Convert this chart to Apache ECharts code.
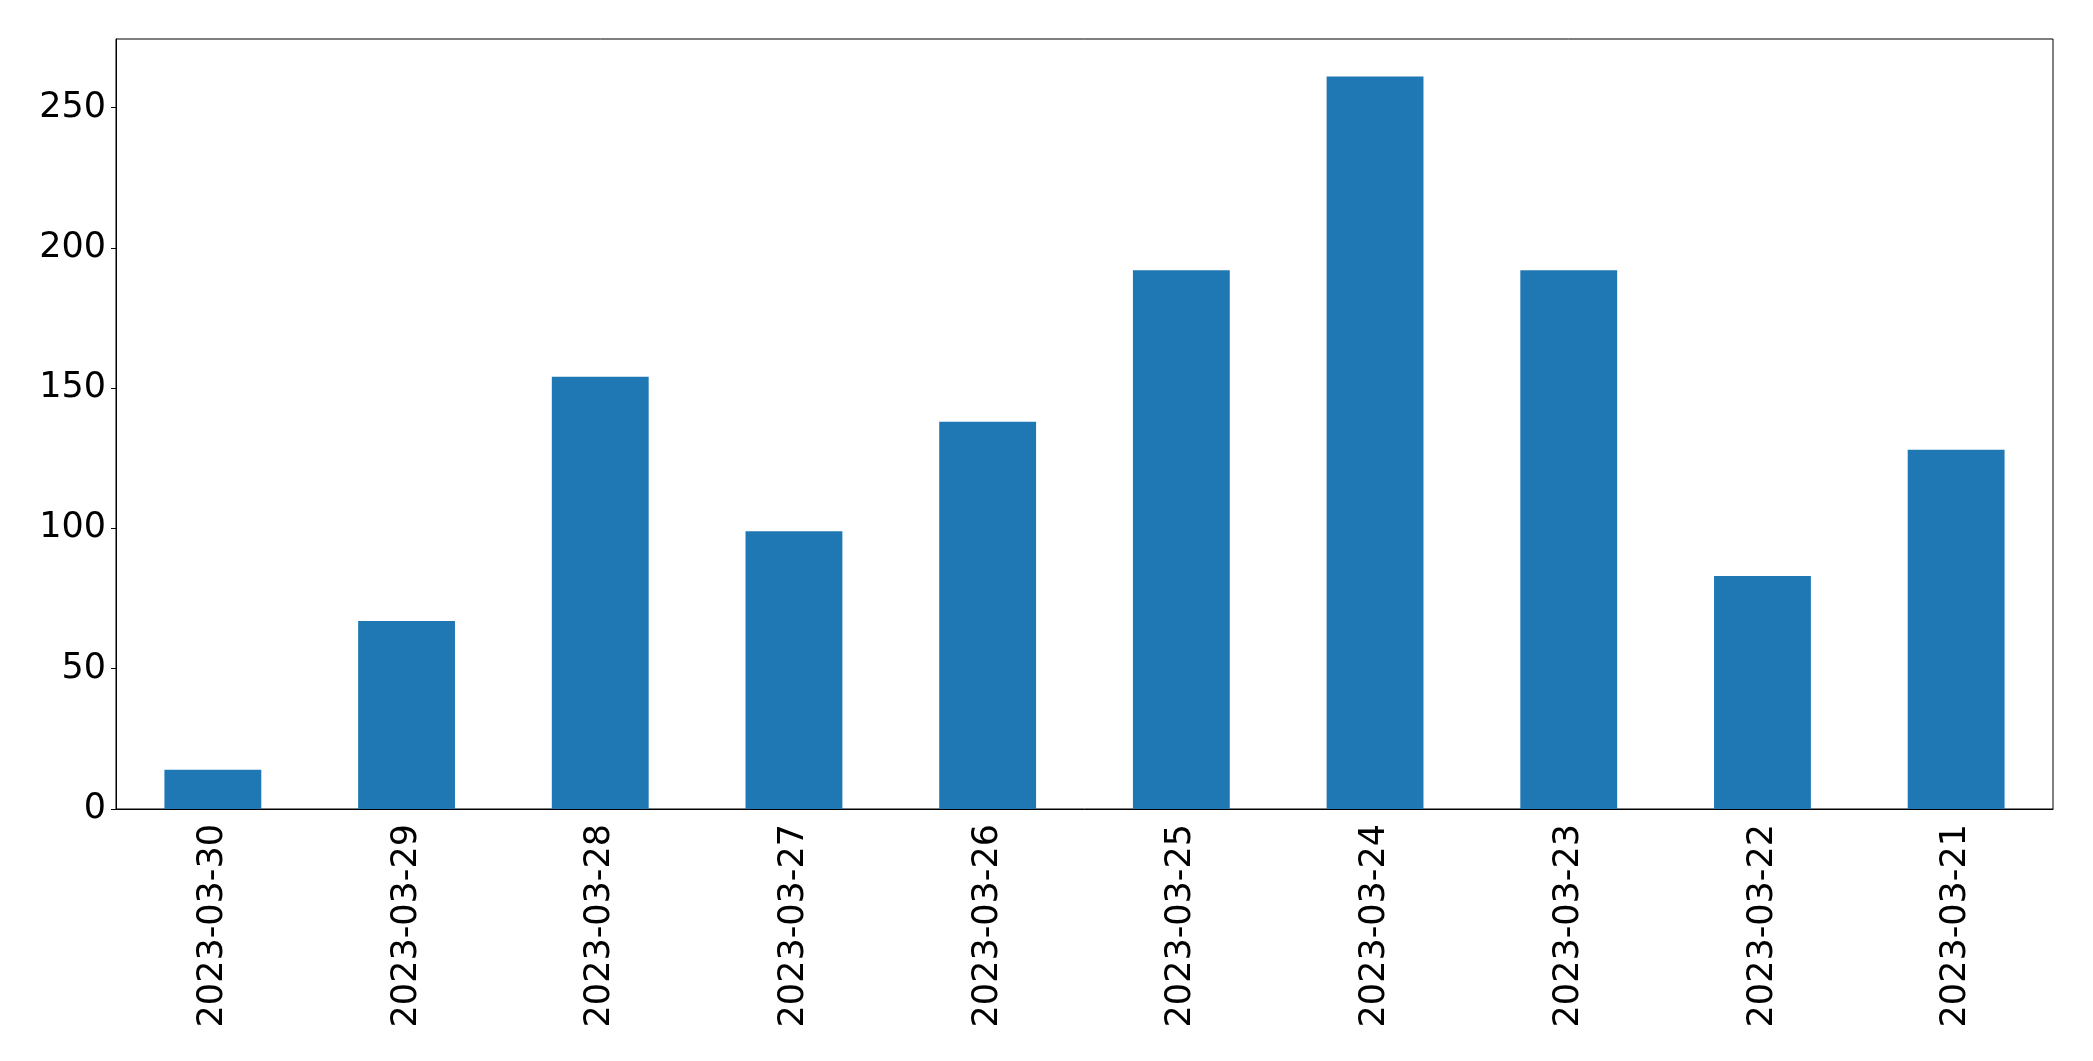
<!DOCTYPE html>
<html>
<head>
<meta charset="utf-8">
<script src="https://cdn.jsdelivr.net/npm/echarts@6/dist/echarts.min.js"></script>
<style>html,body{margin:0;padding:0;background:#fff;}#c{width:2093px;height:1061px;}</style>
</head>
<body>
<div id="c"></div>
<script>
const categories = ['2023-03-30','2023-03-29','2023-03-28','2023-03-27','2023-03-26','2023-03-25','2023-03-24','2023-03-23','2023-03-22','2023-03-21'];
const values = [14, 67, 154, 99, 138, 192, 261, 192, 83, 128];
const yTicks = [0, 50, 100, 150, 200, 250];
const yMax = 274.4;

const chart = echarts.init(document.getElementById('c'), null, {renderer: 'canvas'});
const font = "'DejaVu Sans', sans-serif";
chart.setOption({
  animation: false,
  backgroundColor: '#fff',
  grid: {left: 116, top: 39, width: 1937, height: 770, show: true, borderColor: '#000', borderWidth: 1, containLabel: false},
  xAxis: {
    type: 'category',
    data: categories,
    boundaryGap: true,
    axisLine: {lineStyle: {color: '#000', width: 1}},
    axisTick: {alignWithLabel: true, length: 5, lineStyle: {color: '#000'}},
    axisLabel: {rotate: 90, fontSize: 35, color: '#000', fontFamily: font, margin: 15, interval: 0}
  },
  yAxis: {
    type: 'value',
    min: 0,
    max: yMax,
    interval: 50,
    splitLine: {show: false},
    axisLine: {show: true, lineStyle: {color: '#000', width: 1}},
    axisTick: {show: true, length: 5, lineStyle: {color: '#000'}, customValues: yTicks},
    axisLabel: {fontSize: 35, color: '#000', fontFamily: font, margin: 10, customValues: yTicks}
  },
  series: [{
    type: 'bar',
    data: values,
    barWidth: '50%',
    itemStyle: {color: '#1f77b4'}
  }]
});
</script>
</body>
</html>
